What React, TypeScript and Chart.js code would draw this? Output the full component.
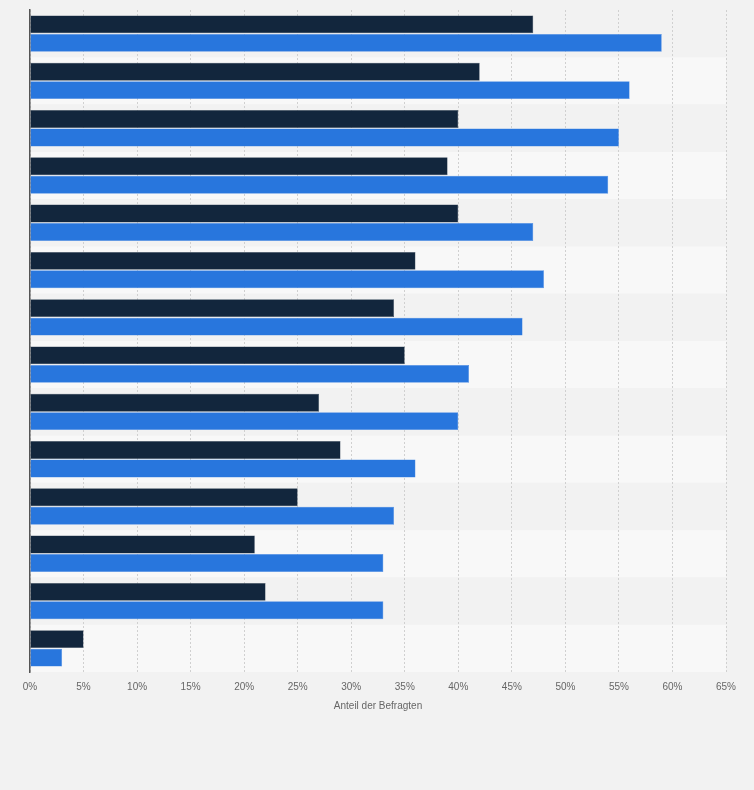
import React, { useEffect, useRef } from "react";
import { Chart, registerables } from "chart.js";

Chart.register(...registerables);

const categories = [
  "Kategorie 1", "Kategorie 2", "Kategorie 3", "Kategorie 4", "Kategorie 5",
  "Kategorie 6", "Kategorie 7", "Kategorie 8", "Kategorie 9", "Kategorie 10",
  "Kategorie 11", "Kategorie 12", "Kategorie 13", "Kategorie 14",
];
const seriesDark = [47, 42, 40, 39, 40, 36, 34, 35, 27, 29, 25, 21, 22, 5];
const seriesBlue = [59, 56, 55, 54, 47, 48, 46, 41, 40, 36, 34, 33, 33, 3];
const seriesNames = ["Serie 1", "Serie 2"];
const xMax = 65;
const xStep = 5;
const axisTitle = "Anteil der Befragten";

const FONT = "'Liberation Sans', Arial, sans-serif";

const bgPlugin = {
  id: "bg",
  beforeDraw(chart: any) {
    const { ctx, width, height, chartArea, scales } = chart;
    ctx.save();
    ctx.fillStyle = "#f2f2f2";
    ctx.fillRect(0, 0, width, height);
    const y = scales.y;
    const half = (y.getPixelForValue(1) - y.getPixelForValue(0)) / 2;
    for (let i = 0; i < categories.length; i++) {
      const c = y.getPixelForValue(i);
      ctx.fillStyle = i % 2 === 0 ? "#f2f2f2" : "#f8f8f8";
      ctx.fillRect(chartArea.left, c - half, chartArea.right - chartArea.left, half * 2);
    }
    ctx.restore();
  },
};

export default function App() {
  const ref = useRef<HTMLCanvasElement | null>(null);
  useEffect(() => {
    document.body.style.margin = "0";
    document.body.style.background = "#f2f2f2";
    const chart = new Chart(ref.current as HTMLCanvasElement, {
      type: "bar",
      data: {
        labels: categories,
        datasets: [
          {
            label: seriesNames[0],
            data: seriesDark,
            backgroundColor: "#12263d",
            borderColor: "#3a4a5c",
            borderWidth: 0.5,
            categoryPercentage: 0.78,
            barPercentage: 0.97,
          },
          {
            label: seriesNames[1],
            data: seriesBlue,
            backgroundColor: "#2876dd",
            borderColor: "#4a8ae4",
            borderWidth: 0.5,
            categoryPercentage: 0.78,
            barPercentage: 0.97,
          },
        ],
      },
      options: {
        indexAxis: "y",
        responsive: false,
        animation: false,
        layout: { padding: { top: 10, left: 30, right: 28, bottom: 72 } },
        plugins: {
          legend: { display: false },
          tooltip: { enabled: false },
        },
        scales: {
          x: {
            min: 0,
            max: xMax,
            ticks: {
              stepSize: xStep,
              padding: 9,
              color: "#666",
              font: { family: FONT, size: 10 },
              callback: (v: any) => v + "%",
            },
            grid: {
              color: "#d0d0d0",
              drawTicks: false,
            },
            border: { display: false, dash: [2, 2] },
            title: {
              display: true,
              text: axisTitle,
              color: "#666",
              font: { family: FONT, size: 10 },
              padding: { top: -2, bottom: 6 },
            },
          },
          y: {
            ticks: { display: false },
            grid: { display: false, drawTicks: false },
            border: { display: true, color: "#555", width: 1.5 },
          },
        },
      },
      plugins: [bgPlugin],
    } as any);
    return () => chart.destroy();
  }, []);
  return <canvas ref={ref} width={754} height={790} style={{ display: "block" }} />;
}
